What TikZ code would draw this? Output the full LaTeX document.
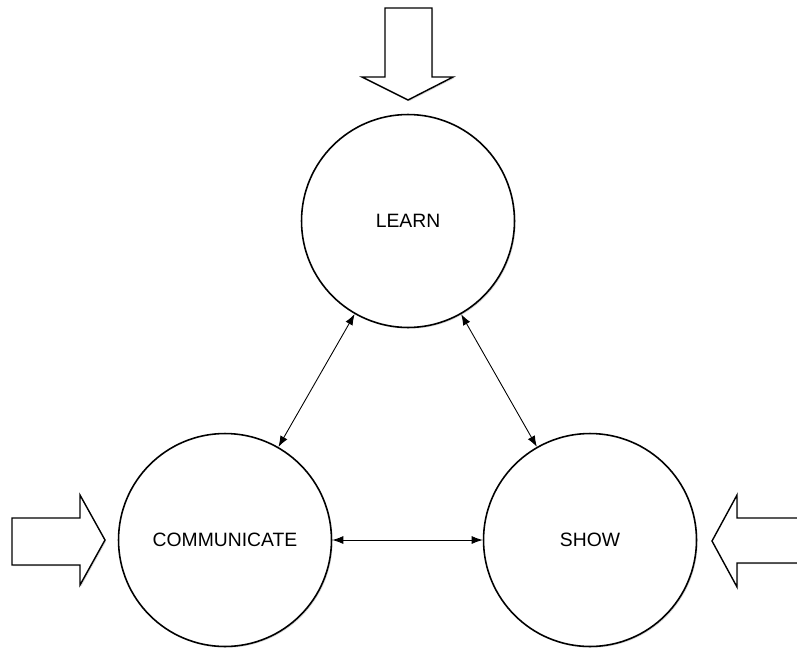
\documentclass[tikz,border=0pt]{standalone}
\usepackage{fontspec}
\setmainfont{Liberation Sans}
\usetikzlibrary{arrows.meta,shadows}
\tikzset{
  stage/.style={circle, draw, line width=0.9pt, fill=white, minimum size=4.26cm,
    font=\fontsize{11}{13}\selectfont,
    drop shadow={shadow xshift=0.7pt, shadow yshift=-0.7pt, opacity=0.3}},
  link/.style={{Latex[length=2.2mm,width=1.6mm]}-{Latex[length=2.2mm,width=1.6mm]}, line width=0.5pt},
  inflow/.style={draw, line width=0.8pt, fill=white, line join=miter,
    drop shadow={shadow xshift=0.7pt, shadow yshift=-0.7pt, opacity=0.3}}
}
\begin{document}
\begin{tikzpicture}[x=0.02cm, y=-0.02cm]
\useasboundingbox (0,0) rectangle (797,649);
\node[stage] (learn) at (408,221){LEARN};
\node[stage] (comm) at (225,540){COMMUNICATE};
\node[stage] (show) at (590,540){SHOW};
\draw[link](learn) -- (comm);
\draw[link](learn) -- (show);
\draw[link](comm) -- (show);
% big open arrows
\path[inflow] (385,8) -- (432,8) -- (432,77) -- (453,77) -- (408,100) -- (362,77) -- (385,77) -- cycle;
\path[inflow] (12,518) -- (80,518) -- (80,495) -- (105,540) -- (80,585) -- (80,565) -- (12,565) -- cycle;
\path[inflow] (805,518) -- (737,518) -- (737,495) -- (712,541) -- (737,587) -- (737,563) -- (805,563) -- cycle;
\end{tikzpicture}
\end{document}
